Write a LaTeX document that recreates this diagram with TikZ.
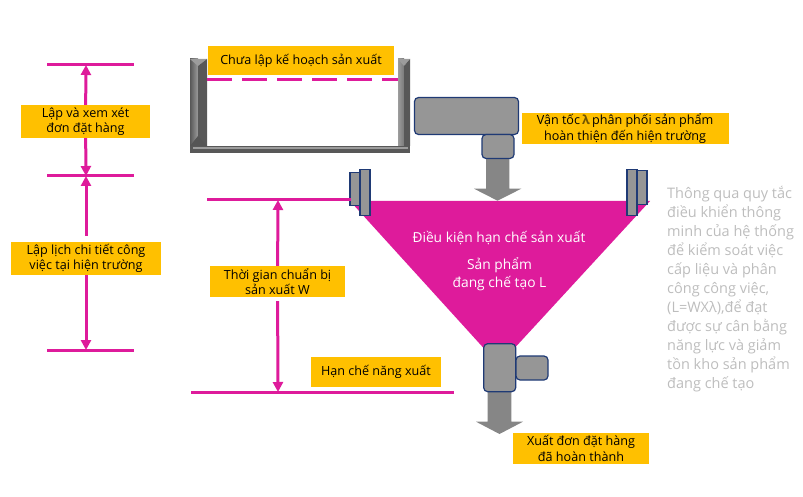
\documentclass[tikz,border=0pt]{standalone}
\usepackage{fontspec}
\setmainfont{Open Sans}
\usepackage{xcolor}
\definecolor{tagyellow}{HTML}{FFC000}
\definecolor{magentaline}{HTML}{DE1B9B}
\definecolor{machinegray}{HTML}{969696}
\definecolor{machineblue}{HTML}{1F3A75}
\definecolor{wallface}{HTML}{7A7A7A}
\definecolor{walldark}{HTML}{585858}
\definecolor{walllight}{HTML}{9C9C9C}
\definecolor{notegray}{HTML}{BDBDBD}
\usetikzlibrary{arrows.meta}

\tikzset{
 tag/.style={fill=tagyellow, inner sep=0, align=center, font=\fontsize{12.6}{15.5}\selectfont},
 machine/.style={draw=machineblue, line width=1.2pt, fill=machinegray, rounded corners=4pt, inner sep=0},
 limitline/.style={magentaline, line width=3pt},
 span/.style={magentaline, line width=3pt, -{Triangle[length=10pt,width=10pt]}},
}

\begin{document}
\begin{tikzpicture}[x=1pt, y=-1pt]
\useasboundingbox (0,0) rectangle (803,497);

\fill[magentaline] (350,201)--(650,201)--(499,365)--cycle;

\shade[left color=walldark, right color=walllight] (190,59) rectangle (198,146);
\fill[walllight] (190,59)--(207,59)--(198,66)--cycle;
\fill[walldark] (207,59)--(207,146)--(198,146)--(198,66)--cycle;
\fill[wallface!70!black] (190,146)--(198,136)--(207,146)--cycle;
\shade[left color=walllight, right color=wallface] (398,59) rectangle (404,146);
\fill[walllight] (398,59)--(410,59)--(404,66)--cycle;
\fill[walldark] (410,59)--(410,146)--(404,146)--(404,66)--cycle;
\fill[walldark] (190,146) rectangle (410,153);
\fill[walllight] (193,147.5) rectangle (408,149.5);

\coordinate (planl) at (207,80);
\coordinate (planr) at (398,80);
\draw[magentaline, line width=3pt, dash pattern=on 25pt off 10pt] (planl)--(planr);

\foreach \tipx/\tiptop/\tipbot/\shafttop/\shaftl/\shaftr/\headl/\headr in {497.5/188.7/200.7/158/486/509.3/474/521.3, 499.5/421.7/434/392/487.7/511.3/476/523} {
 \fill[gray!95!white] (\shaftl,\shafttop)--(\shaftr,\shafttop)--(\shaftr,\tiptop)--(\headr,\tiptop)--(\tipx,\tipbot)--(\headl,\tiptop)--(\shaftl,\tiptop)--cycle;
}

\node[machine, minimum width=104pt, minimum height=37pt] (feedbig) at (466.5,116) {};
\node[machine, minimum width=32pt, minimum height=24pt] (feedsmall) at (498,146.5) {};
\node[machine, minimum width=32pt, minimum height=48pt] (outbig) at (499.7,367.7) {};
\node[machine, minimum width=32pt, minimum height=24pt] (outsmall) at (532,368) {};
\node[machine, rounded corners=0, minimum width=10pt, minimum height=33pt] (clamplb) at (355,189) {};
\node[machine, rounded corners=0, minimum width=10pt, minimum height=46pt] (clampla) at (365,192.7) {};
\node[machine, rounded corners=0, minimum width=10pt, minimum height=34pt] (clamprb) at (642,187.7) {};
\node[machine, rounded corners=0, minimum width=10pt, minimum height=46pt] (clampra) at (632,192.5) {};

\node[tag, minimum width=186pt, minimum height=29pt] (unplanned) at (301,60.5) {Chưa lập kế hoạch sản xuất};
\node[tag, minimum width=129pt, minimum height=33pt] (review) at (85.5,121.5) {Lập và xem xét\\đơn đặt hàng};
\node[tag, minimum width=150pt, minimum height=33pt] (schedule) at (86,258.5) {Lập lịch chi tiết công\\việc tại hiện trường};
\node[tag, minimum width=135pt, minimum height=31pt] (leadtime) at (277.5,281.5) {Thời gian chuẩn bị\\sản xuất W};
\node[tag, minimum width=130pt, minimum height=30pt] (capacity) at (376,372) {Hạn chế năng xuất};
\node[tag, minimum width=207pt, minimum height=31pt] (speed) at (625,128.5) {Vận tốc\,{\bfseries\color{tagyellow!45!black}λ}\,phân phối sản phẩm\\hoàn thiện đến hiện trường};
\node[tag, minimum width=136pt, minimum height=31pt] (shipped) at (581,448.5) {Xuất đơn đặt hàng\\đã hoàn thành};

\node[white, inner sep=0, font=\fontsize{13.8}{15}\selectfont] (wiplimit) at (499,238) {Điều kiện hạn chế sản xuất};
\node[white, inner sep=0, align=center, font=\fontsize{13.8}{18}\selectfont] (wip) at (499.5,274) {Sản phẩm\\đang chế tạo L};

\node[notegray, inner sep=0, align=left, anchor=north west, font=\fontsize{14.5}{19}\selectfont] (note) at (667,186) {Thông qua quy tắc\\điều khiển thông\\minh của hệ thống\\để kiểm soát việc\\cấp liệu và phân\\công công việc,\\(L=WXλ),để đạt\\được sự cân bằng\\năng lực và giảm\\tồn kho sản phẩm\\đang chế tạo};

\coordinate (limita) at (86,65);
\coordinate (limitb) at (86,176);
\coordinate (limitc) at (86,350);
\coordinate (limitd) at (278,200);
\coordinate (limite) at (278,392);
\foreach \y/\xa/\xb in {65/47/134, 176/47/134, 350/47/134, 200/207/351, 392/191/454} {
 \draw[limitline] (\xa,\y)--(\xb,\y);
}
\draw[span] (review)--(limita);
\draw[span] (review)--(limitb);
\draw[span, shorten <=6pt] (schedule)--(limitb);
\draw[span] (schedule)--(limitc);
\draw[span] (leadtime)--(limitd);
\draw[span, shorten <=4pt] (leadtime)--(limite);
\end{tikzpicture}
\end{document}
